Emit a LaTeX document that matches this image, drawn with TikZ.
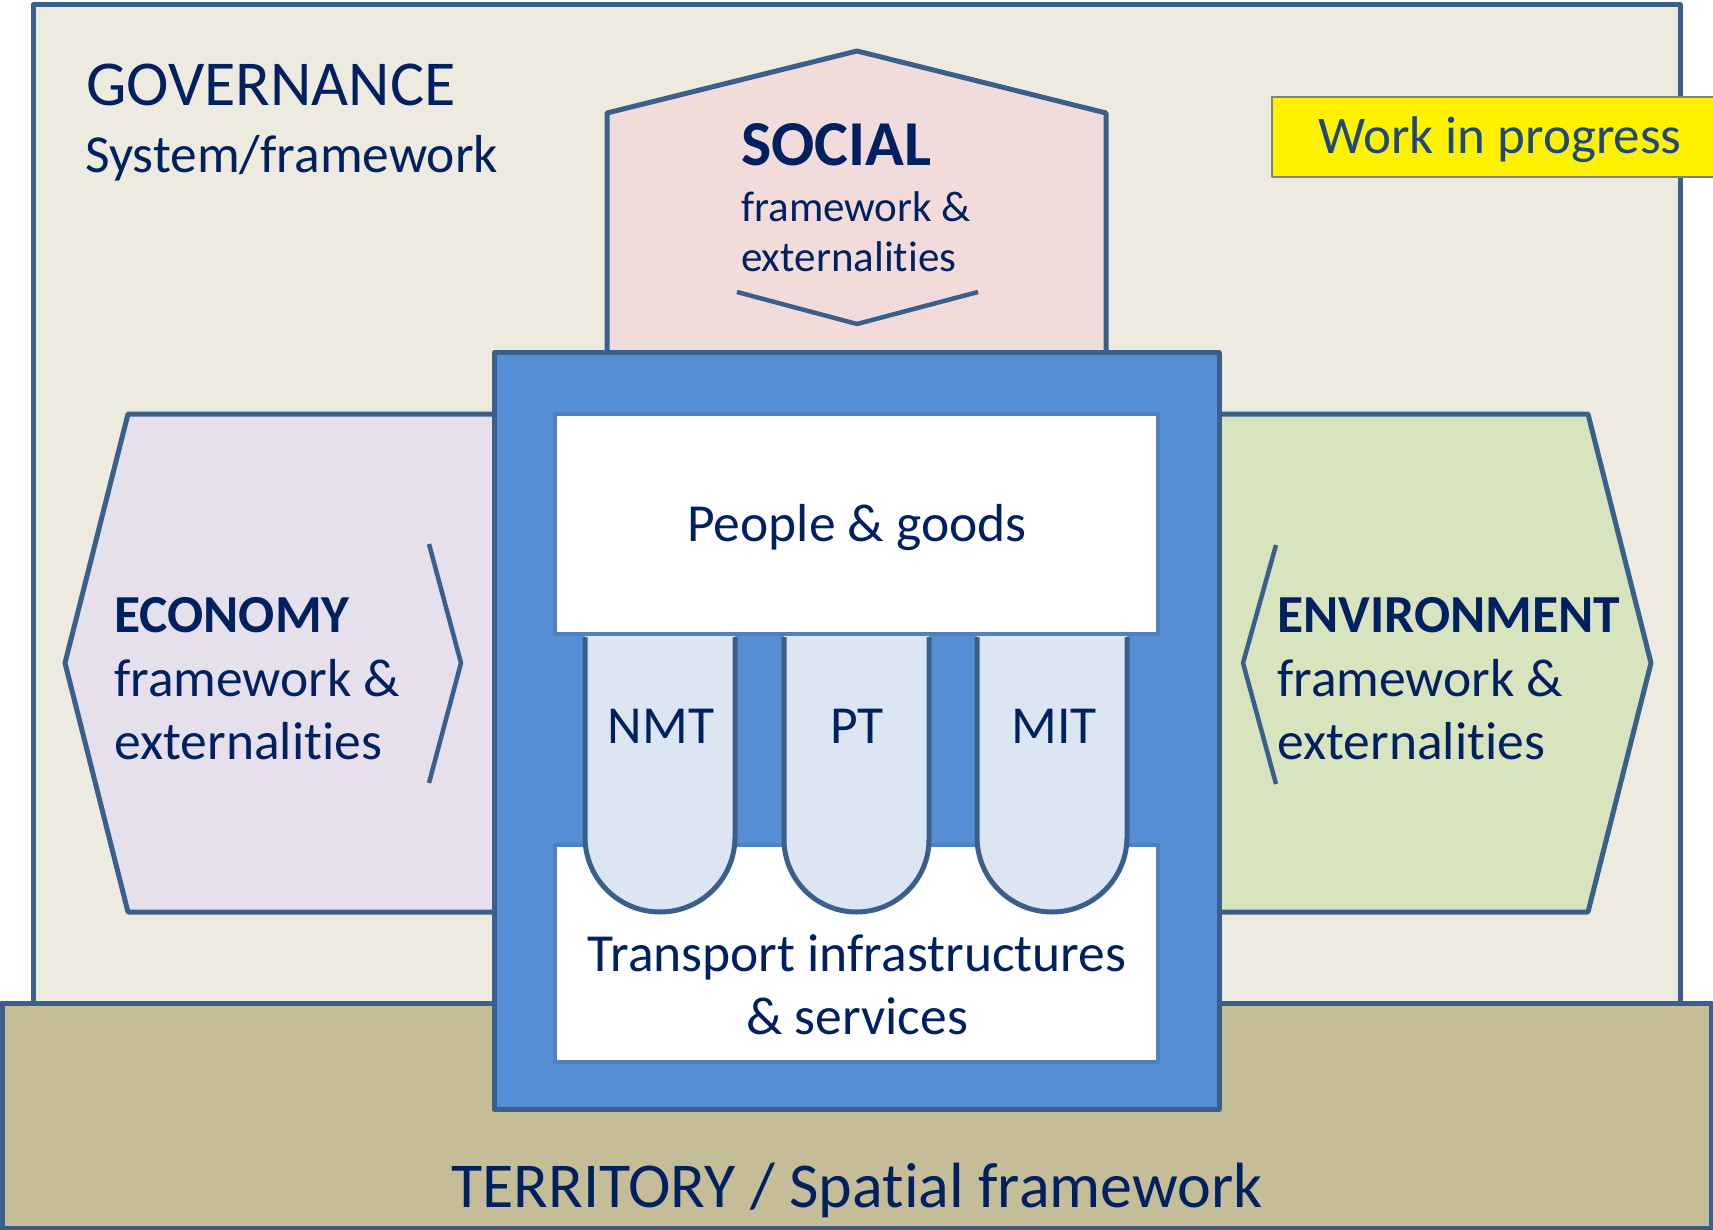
\documentclass[tikz,border=0pt]{standalone}
\usepackage{fontspec}
\setmainfont{Carlito}[Ligatures={NoCommon,NoContextual}]
\definecolor{navy}{HTML}{002060}
\definecolor{edgeblue}{HTML}{3A5F8B}
\definecolor{govbg}{HTML}{EDEBE0}
\definecolor{terrfill}{HTML}{C4BD97}
\definecolor{socialfill}{HTML}{F2DCDB}
\definecolor{econfill}{HTML}{E5E0EC}
\definecolor{envfill}{HTML}{D7E4BD}
\definecolor{bluefill}{HTML}{558ED5}
\definecolor{innerblue}{HTML}{4F81BD}
\definecolor{pillfill}{HTML}{DCE6F2}
\definecolor{wipblue}{HTML}{1F497D}
\begin{document}
\begin{tikzpicture}[x=1pt,y=-1pt,line join=round,
  shapeedge/.style={draw=edgeblue,line width=5pt},
  chev/.style={draw=edgeblue,line width=4.5pt},
  txt/.style={inner sep=0pt,text=navy},
  fs/.style={font=\fontsize{#1}{#1}\selectfont},
  fsb/.style={font=\fontsize{#1}{#1}\selectfont\bfseries}]
\useasboundingbox (0,0) rectangle (1713,1230);
\begin{scope}
\clip (0,0) rectangle (1713,1230);
% governance frame
\draw[shapeedge,fill=govbg] (33,5) rectangle (1680,1012);
% territory
\draw[shapeedge,fill=terrfill] (2,1003) rectangle (1711,1228);
% social pentagon
\draw[shapeedge,fill=socialfill] (607,370) -- (607,113) -- (857,51) -- (1106,113) -- (1106,370) -- cycle;
\draw[chev] (737,292) -- (857,324) -- (978,292);
% economy hexagon
\draw[shapeedge,fill=econfill] (510,414) -- (128,414) -- (65,663) -- (128,912) -- (510,912) -- cycle;
\draw[chev] (429,544) -- (461,663) -- (429,783);
% environment hexagon
\draw[shapeedge,fill=envfill] (1200,414) -- (1588,414) -- (1651,663) -- (1588,912) -- (1200,912) -- cycle;
\draw[chev] (1276,545) -- (1243,663) -- (1276,784);
% central blue box
\draw[shapeedge,fill=bluefill] (494,353) rectangle (1219,1109);
\draw[draw=innerblue,line width=4pt,fill=white] (555,414) rectangle (1158,634);
\draw[draw=innerblue,line width=4pt,fill=white] (555,845) rectangle (1158,1062);
% pills
\foreach \xl/\xr in {585/735, 784/929, 977/1127}{
  \pgfmathsetmacro{\r}{(\xr-\xl)/2}
  \fill[pillfill] (\xl,636) -- (\xl,912-\r) arc[start angle=180,end angle=0,radius=\r] -- (\xr,636) -- cycle;
  \draw[draw=edgeblue,line width=5pt] (\xl,637) -- (\xl,912-\r) arc[start angle=180,end angle=0,radius=\r] -- (\xr,637);
}
% work in progress
\draw[draw=gray,line width=2pt,fill=yellow] (1272,97) rectangle (1730,177);
\end{scope}
% texts
\node[txt,fs=64,anchor=base west] (gov) at (86,106) {GOVERNANCE};
\node[txt,fs=53.5,anchor=base west] (govsub) at (85,173) {System/framework};
\node[txt,fs=53,anchor=base west,text=wipblue] (wip) at (1318,154) {Work in progress};
\node[txt,fsb=64,anchor=base west] (soc) at (741,166) {SOCIAL};
\node[txt,fs=43,anchor=base west] (soc1) at (741,222) {framework \&};
\node[txt,fs=43,anchor=base west] (soc2) at (741,272) {externalities};
\node[txt,fsb=53.5,anchor=base west] (eco) at (114,632) {ECONOMY};
\node[txt,fs=53.5,anchor=base west] (eco1) at (114,696) {framework \&};
\node[txt,fs=53.5,anchor=base west] (eco2) at (114,759) {externalities};
\node[txt,fsb=53.5,anchor=base west] (env) at (1277,632) {ENVIRONMENT};
\node[txt,fs=53.5,anchor=base west] (env1) at (1277,696) {framework \&};
\node[txt,fs=53.5,anchor=base west] (env2) at (1277,759) {externalities};
\node[txt,fs=53.5,anchor=base] (ppl) at (857,541) {People \& goods};
\node[txt,fs=53.5,anchor=base] (nmt) at (661,743) {NMT};
\node[txt,fs=53.5,anchor=base] (pt) at (857,743) {PT};
\node[txt,fs=53.5,anchor=base] (mit) at (1054,743) {MIT};
\node[txt,fs=53.5,anchor=base] (tr1) at (857,971) {Transport infrastructures};
\node[txt,fs=53.5,anchor=base] (tr2) at (857,1034) {\& services};
\node[txt,fs=64,anchor=base] (terr) at (857,1207) {TERRITORY / Spatial framework};
\end{tikzpicture}
\end{document}
